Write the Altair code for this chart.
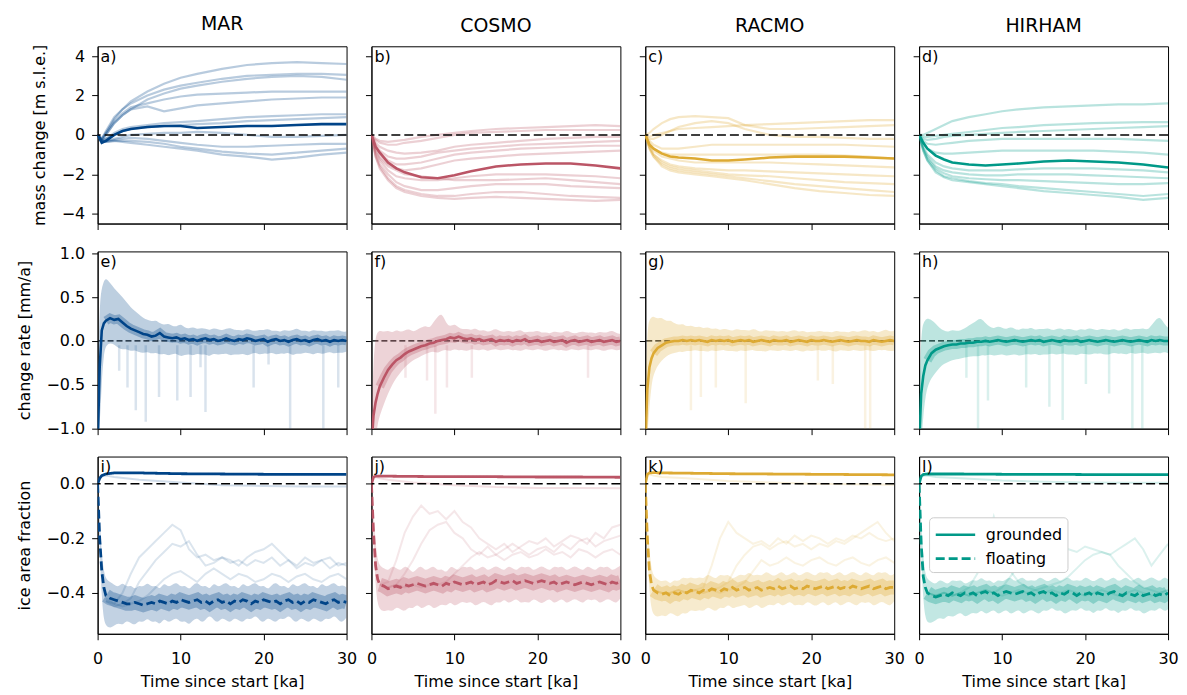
import altair as alt
import pandas as pd

MODELS = ["MAR", "COSMO", "RACMO", "HIRHAM"]
COLORS = ["#004488", "#BB5566", "#DDAA33", "#009988"]
LETTERS = [["a)", "b)", "c)", "d)"], ["e)", "f)", "g)", "h)"], ["i)", "j)", "k)", "l)"]]
X_TICKS = [0, 10, 20, 30]
ROW_TITLES = ["mass change [m s.l.e.]", "change rate [mm/a]", "ice area fraction"]
ROW_DOMAINS = [[-4.5, 4.5], [-1.0, 1.02], [-0.55, 0.1]]
ROW_TICKS = [[-4, -2, 0, 2, 4], [-1.0, -0.5, 0.0, 0.5, 1.0], [-0.4, -0.2, 0.0]]
ROW_FORMATS = ["d", ".1f", ".1f"]
LEGEND_LABELS = ["grounded", "floating"]

# ---------------- row 1: mass change (time grid T1) ----------------
T1 = [0, 0.5, 1, 2, 3, 4, 6, 8, 10, 12, 15, 18, 21, 24, 27, 30]

MAR_MASS = [
    [0, -0.2, 0.1, 0.8, 1.3, 1.7, 2.2, 2.6, 2.9, 3.1, 3.35, 3.55, 3.65, 3.7, 3.65, 3.6],
    [0, -0.2, 0.2, 0.9, 1.3, 1.6, 2.0, 2.3, 2.5, 2.65, 2.85, 3.0, 3.05, 3.1, 3.1, 3.05],
    [0, -0.25, 0.0, 0.6, 1.0, 1.3, 1.8, 2.1, 2.35, 2.5, 2.7, 2.85, 2.95, 3.0, 2.95, 2.8],
    [0, -0.2, 0.1, 0.7, 1.1, 1.4, 1.6, 1.8, 1.95, 2.05, 2.1, 2.15, 2.2, 2.2, 2.2, 2.2],
    [0, -0.3, 0.0, 0.6, 1.0, 1.3, 1.45, 1.2, 1.35, 1.5, 1.6, 1.7, 1.8, 1.85, 1.9, 1.9],
    [0, -0.3, -0.2, 0.1, 0.3, 0.4, 0.5, 0.6, 0.65, 0.7, 0.8, 0.9, 0.95, 1.0, 1.05, 1.05],
    [0, -0.3, -0.2, 0.0, 0.2, 0.3, 0.4, 0.45, 0.5, 0.55, 0.6, 0.7, 0.75, 0.8, 0.85, 0.9],
    [0, -0.3, -0.3, -0.2, -0.1, 0.0, 0.05, 0.1, 0.1, 0.15, 0.1, 0.0, -0.1, -0.1, -0.05, 0.0],
    [0, -0.3, -0.3, -0.25, -0.2, -0.15, -0.2, -0.3, -0.4, -0.5, -0.6, -0.6, -0.55, -0.5, -0.45, -0.45],
    [0, -0.3, -0.35, -0.3, -0.3, -0.3, -0.35, -0.45, -0.6, -0.7, -0.85, -0.95, -1.0, -0.9, -0.8, -0.7],
    [0, -0.3, -0.35, -0.3, -0.35, -0.4, -0.5, -0.6, -0.7, -0.8, -1.0, -1.1, -1.25, -1.15, -1.0, -0.9],
]
MAR_MASS_MEAN = [0, -0.4, -0.3, 0.0, 0.2, 0.3, 0.4, 0.45, 0.45, 0.35, 0.4, 0.45, 0.45, 0.5, 0.55, 0.55]

COSMO_MASS = [
    [0, -0.2, -0.3, -0.35, -0.3, -0.25, -0.1, 0.0, 0.1, 0.2, 0.3, 0.35, 0.4, 0.45, 0.5, 0.45],
    [0, -0.25, -0.4, -0.5, -0.5, -0.4, -0.3, -0.15, 0.0, 0.1, 0.15, 0.2, 0.25, 0.25, 0.25, 0.25],
    [0, -0.4, -0.6, -0.8, -0.9, -0.95, -0.9, -0.8, -0.6, -0.5, -0.4, -0.3, -0.2, -0.15, -0.1, -0.1],
    [0, -0.5, -0.8, -1.1, -1.2, -1.2, -1.1, -0.9, -0.8, -0.7, -0.6, -0.5, -0.45, -0.4, -0.35, -0.3],
    [0, -0.6, -0.9, -1.3, -1.5, -1.5, -1.4, -1.2, -1.0, -0.9, -0.8, -0.7, -0.65, -0.6, -0.55, -0.55],
    [0, -0.7, -1.1, -1.5, -1.7, -1.8, -1.7, -1.5, -1.3, -1.2, -1.1, -1.0, -0.95, -0.9, -0.85, -0.8],
    [0, -0.9, -1.3, -1.8, -2.1, -2.2, -2.3, -2.3, -2.2, -2.1, -2.0, -2.0, -2.0, -2.05, -2.1, -2.2],
    [0, -1.0, -1.5, -2.0, -2.4, -2.6, -2.8, -2.8, -2.7, -2.6, -2.5, -2.5, -2.5, -2.6, -2.65, -2.7],
    [0, -1.1, -1.6, -2.2, -2.6, -2.8, -3.0, -3.1, -3.1, -3.0, -2.9, -2.9, -3.0, -3.1, -3.15, -3.2],
    [0, -1.1, -1.7, -2.3, -2.7, -2.9, -3.1, -3.2, -3.25, -3.2, -3.15, -3.2, -3.25, -3.3, -3.35, -3.3],
    [0, -0.8, -1.2, -1.6, -1.8, -2.0, -2.1, -2.2, -2.3, -2.3, -2.3, -2.25, -2.2, -2.3, -2.4, -2.5],
]
COSMO_MASS_MEAN = [0, -0.6, -0.9, -1.4, -1.7, -1.9, -2.15, -2.2, -2.05, -1.85, -1.6, -1.5, -1.45, -1.45, -1.55, -1.7]

RACMO_MASS = [
    [0, -0.1, 0.0, 0.1, 0.2, 0.3, 0.35, 0.4, 0.45, 0.5, 0.55, 0.6, 0.65, 0.7, 0.75, 0.75],
    [0, 0.1, 0.3, 0.6, 0.8, 0.9, 0.95, 0.9, 0.85, 0.5, 0.3, 0.3, 0.35, 0.4, 0.45, 0.5],
    [0, -0.2, -0.2, 0.0, 0.2, 0.4, 0.6, 0.7, 0.6, 0.3, 0.0, -0.1, -0.1, -0.15, -0.2, -0.2],
    [0, -0.3, -0.5, -0.7, -0.7, -0.7, -0.6, -0.5, -0.5, -0.5, -0.5, -0.5, -0.5, -0.5, -0.55, -0.6],
    [0, -0.5, -0.8, -1.1, -1.2, -1.3, -1.4, -1.4, -1.4, -1.4, -1.4, -1.45, -1.5, -1.55, -1.6, -1.65],
    [0, -0.6, -1.0, -1.3, -1.5, -1.6, -1.7, -1.75, -1.8, -1.8, -1.85, -1.9, -1.95, -2.0, -2.05, -2.1],
    [0, -0.6, -1.0, -1.4, -1.6, -1.7, -1.8, -1.9, -2.0, -2.05, -2.1, -2.2, -2.3, -2.4, -2.45, -2.5],
    [0, -0.7, -1.1, -1.5, -1.7, -1.8, -1.9, -2.0, -2.1, -2.2, -2.35, -2.5, -2.6, -2.7, -2.8, -2.9],
    [0, -0.7, -1.1, -1.6, -1.8, -1.9, -2.0, -2.1, -2.2, -2.3, -2.5, -2.7, -2.85, -2.95, -3.05, -3.1],
    [0, -0.4, -0.7, -0.9, -1.0, -1.0, -1.0, -1.0, -1.0, -1.0, -1.0, -1.0, -1.0, -1.05, -1.1, -1.2],
]
RACMO_MASS_MEAN = [0, -0.5, -0.7, -0.95, -1.1, -1.15, -1.2, -1.3, -1.3, -1.25, -1.15, -1.1, -1.1, -1.1, -1.15, -1.2]

HIRHAM_MASS = [
    [0, 0.0, 0.1, 0.3, 0.5, 0.7, 0.9, 1.05, 1.2, 1.3, 1.4, 1.45, 1.5, 1.55, 1.55, 1.6],
    [0, -0.1, -0.1, -0.05, 0.0, 0.05, 0.15, 0.25, 0.35, 0.4, 0.5, 0.55, 0.6, 0.62, 0.65, 0.65],
    [0, -0.2, -0.25, -0.2, -0.1, -0.05, 0.0, 0.05, 0.1, 0.15, 0.2, 0.25, 0.3, 0.35, 0.4, 0.45],
    [0, -0.3, -0.45, -0.5, -0.45, -0.4, -0.3, -0.25, -0.2, -0.2, -0.2, -0.2, -0.2, -0.2, -0.25, -0.3],
    [0, -0.4, -0.7, -0.9, -0.95, -0.95, -0.9, -0.85, -0.8, -0.8, -0.8, -0.8, -0.8, -0.85, -0.9, -1.0],
    [0, -0.6, -1.0, -1.4, -1.6, -1.7, -1.8, -1.8, -1.8, -1.75, -1.7, -1.7, -1.7, -1.75, -1.8, -1.9],
    [0, -0.7, -1.1, -1.6, -1.8, -1.9, -2.0, -2.05, -2.05, -2.0, -2.0, -2.0, -2.05, -2.1, -2.15, -2.2],
    [0, -0.7, -1.2, -1.7, -1.95, -2.1, -2.2, -2.25, -2.3, -2.3, -2.35, -2.4, -2.45, -2.5, -2.5, -2.45],
    [0, -0.8, -1.3, -1.8, -2.1, -2.2, -2.35, -2.45, -2.5, -2.6, -2.7, -2.8, -2.9, -3.0, -3.1, -3.0],
    [0, -0.8, -1.3, -1.9, -2.15, -2.3, -2.4, -2.5, -2.6, -2.7, -2.85, -2.95, -3.05, -3.15, -3.3, -3.2],
]
HIRHAM_MASS_MEAN = [0, -0.4, -0.7, -1.05, -1.25, -1.4, -1.5, -1.55, -1.5, -1.45, -1.35, -1.3, -1.35, -1.4, -1.5, -1.65]

# ---------------- rows 2 and 3: time grid T2 (0..1 by 0.25, then by 0.5) ----------------
T2 = [0, 0.25, 0.5, 0.75] + [1 + 0.5 * i for i in range(59)]

MAR_RATE_MEAN = [
    -1.2, -0.3, 0.12, 0.2, 0.23,
    0.26, 0.24, 0.25, 0.21, 0.17, 0.14, 0.12, 0.10, 0.08, 0.07,
    0.05, 0.06, 0.09, 0.05, 0.04, 0.03, 0.04, 0.02, 0.03, 0.01,
    0.02, 0.0, 0.02, 0.03, 0.01, 0.02, 0.0, 0.01, 0.03, 0.01,
    0.0, 0.02, 0.01, 0.03, 0.02, 0.0, 0.01, 0.02, -0.01, 0.01,
    0.02, 0.0, 0.01, -0.01, 0.01, 0.02, 0.0, 0.01, -0.01, 0.01,
    0.02, 0.0, 0.01, -0.01, 0.01, 0.0, 0.01, 0.0]
MAR_RATE_HI = [
    -0.5, 0.45, 0.6, 0.68, 0.72,
    0.66, 0.6, 0.55, 0.5, 0.44, 0.38, 0.34, 0.3, 0.26, 0.24,
    0.22, 0.24, 0.2, 0.18, 0.2, 0.17, 0.16, 0.2, 0.15, 0.14,
    0.16, 0.13, 0.15, 0.14, 0.12, 0.15, 0.13, 0.12, 0.14, 0.15,
    0.12, 0.13, 0.11, 0.14, 0.12, 0.11, 0.13, 0.12, 0.14, 0.11,
    0.12, 0.1, 0.13, 0.11, 0.12, 0.15, 0.11, 0.12, 0.1, 0.13,
    0.11, 0.12, 0.1, 0.12, 0.11, 0.13, 0.1, 0.11]
MAR_RATE_LO = [
    -1.2, -1.0, -0.45, -0.15, -0.05,
    -0.02, -0.04, -0.08, -0.1, -0.09, -0.12, -0.1, -0.13, -0.14, -0.12,
    -0.15, -0.13, -0.16, -0.14, -0.17, -0.15, -0.14, -0.18, -0.16, -0.15,
    -0.17, -0.14, -0.16, -0.15, -0.18, -0.14, -0.16, -0.15, -0.14, -0.17,
    -0.15, -0.16, -0.14, -0.17, -0.15, -0.13, -0.16, -0.14, -0.15, -0.13,
    -0.16, -0.14, -0.15, -0.13, -0.17, -0.14, -0.15, -0.13, -0.14, -0.16,
    -0.13, -0.15, -0.14, -0.12, -0.15, -0.13, -0.14, -0.12]

COSMO_RATE_MEAN = [
    -1.2, -0.85, -0.7, -0.6, -0.52,
    -0.42, -0.33, -0.27, -0.22, -0.19, -0.15, -0.12, -0.1, -0.08, -0.06,
    -0.05, -0.03, -0.02, 0.0, 0.01, 0.02, 0.04, 0.03, 0.05, 0.03,
    0.02, 0.03, 0.01, 0.02, 0.0, 0.01, 0.02, -0.01, 0.01, 0.0,
    0.01, -0.01, 0.01, 0.0, 0.02, -0.01, 0.0, 0.01, -0.01, 0.0,
    0.01, -0.01, 0.0, 0.01, -0.02, 0.0, 0.01, -0.01, 0.0, 0.01,
    -0.01, 0.0, 0.01, -0.01, 0.0, 0.01, -0.01, 0.0]
COSMO_RATE_HI = [
    -0.9, -0.2, 0.05, 0.1, 0.12,
    0.1, 0.12, 0.09, 0.13, 0.1, 0.12, 0.14, 0.1, 0.13, 0.15,
    0.18, 0.14, 0.22, 0.28, 0.32, 0.2, 0.16, 0.2, 0.15, 0.13,
    0.14, 0.12, 0.15, 0.11, 0.13, 0.1, 0.12, 0.14, 0.11, 0.1,
    0.12, 0.1, 0.11, 0.13, 0.09, 0.11, 0.1, 0.12, 0.09, 0.1,
    0.08, 0.11, 0.1, 0.09, 0.12, 0.1, 0.08, 0.1, 0.11, 0.09,
    0.1, 0.08, 0.11, 0.09, 0.1, 0.12, 0.09, 0.08]
COSMO_RATE_LO = [
    -1.3, -1.2, -1.1, -0.95, -0.85,
    -0.72, -0.6, -0.5, -0.42, -0.36, -0.3, -0.26, -0.22, -0.2, -0.17,
    -0.15, -0.13, -0.12, -0.14, -0.11, -0.1, -0.12, -0.09, -0.11, -0.1,
    -0.12, -0.09, -0.1, -0.11, -0.09, -0.12, -0.1, -0.09, -0.11, -0.1,
    -0.09, -0.11, -0.1, -0.12, -0.09, -0.1, -0.11, -0.09, -0.1, -0.12,
    -0.1, -0.09, -0.11, -0.1, -0.12, -0.09, -0.1, -0.11, -0.09, -0.1,
    -0.11, -0.09, -0.1, -0.12, -0.1, -0.09, -0.11, -0.1]

RACMO_RATE_MEAN = [
    -1.2, -0.55, -0.3, -0.2, -0.14,
    -0.08, -0.05, -0.02, -0.01, 0.0, 0.0, 0.01, 0.0, 0.01, 0.0,
    0.01, 0.0, -0.01, 0.01, 0.0, 0.01, 0.0, 0.01, -0.01, 0.0,
    0.01, 0.0, 0.01, -0.01, 0.0, 0.01, 0.0, -0.01, 0.01, 0.0,
    0.0, 0.01, -0.01, 0.0, 0.01, 0.0, -0.01, 0.01, 0.0, 0.0,
    0.01, 0.0, -0.01, 0.0, 0.01, 0.0, -0.01, 0.0, 0.01, 0.0,
    0.0, -0.01, 0.01, 0.0, -0.01, 0.0, 0.01, 0.0]
RACMO_RATE_HI = [
    -0.6, 0.15, 0.24, 0.27, 0.28,
    0.25, 0.27, 0.22, 0.24, 0.2, 0.18, 0.2, 0.16, 0.18, 0.15,
    0.17, 0.14, 0.16, 0.13, 0.15, 0.12, 0.14, 0.13, 0.11, 0.14,
    0.12, 0.13, 0.11, 0.14, 0.12, 0.1, 0.13, 0.11, 0.12, 0.1,
    0.12, 0.1, 0.11, 0.13, 0.1, 0.12, 0.09, 0.11, 0.1, 0.12,
    0.1, 0.11, 0.09, 0.12, 0.1, 0.11, 0.09, 0.12, 0.1, 0.11,
    0.13, 0.1, 0.12, 0.09, 0.11, 0.14, 0.1, 0.12]
RACMO_RATE_LO = [
    -1.3, -1.1, -0.75, -0.5, -0.38,
    -0.28, -0.22, -0.18, -0.15, -0.14, -0.12, -0.13, -0.11, -0.12, -0.1,
    -0.12, -0.11, -0.13, -0.1, -0.12, -0.11, -0.1, -0.12, -0.11, -0.13,
    -0.1, -0.12, -0.11, -0.1, -0.12, -0.11, -0.13, -0.1, -0.11, -0.12,
    -0.1, -0.11, -0.12, -0.1, -0.11, -0.13, -0.1, -0.12, -0.11, -0.1,
    -0.12, -0.1, -0.11, -0.13, -0.1, -0.11, -0.12, -0.1, -0.11, -0.12,
    -0.1, -0.11, -0.12, -0.1, -0.11, -0.1, -0.12, -0.11]

HIRHAM_RATE_MEAN = [
    -1.2, -0.6, -0.4, -0.28, -0.22,
    -0.14, -0.1, -0.08, -0.06, -0.05, -0.04, -0.04, -0.03, -0.03, -0.02,
    -0.02, -0.01, -0.01, 0.0, -0.01, 0.0, 0.01, 0.0, -0.01, 0.0,
    0.01, 0.0, -0.01, 0.0, 0.01, 0.0, 0.01, -0.01, 0.0, 0.01,
    0.0, -0.01, 0.01, 0.0, 0.0, 0.01, -0.01, 0.0, 0.01, 0.0,
    -0.01, 0.0, 0.01, 0.0, -0.01, 0.0, 0.01, 0.0, -0.01, 0.0,
    0.01, 0.0, -0.01, 0.01, 0.0, 0.01, 0.0, 0.0]
HIRHAM_RATE_HI = [
    -0.7, 0.1, 0.2, 0.24, 0.26,
    0.24, 0.2, 0.14, 0.12, 0.1, 0.13, 0.11, 0.12, 0.14, 0.18,
    0.2, 0.24, 0.26, 0.2, 0.16, 0.14, 0.17, 0.15, 0.13, 0.16,
    0.14, 0.12, 0.15, 0.13, 0.16, 0.12, 0.14, 0.13, 0.15, 0.12,
    0.13, 0.15, 0.12, 0.14, 0.13, 0.11, 0.14, 0.12, 0.15, 0.13,
    0.12, 0.14, 0.13, 0.12, 0.14, 0.11, 0.13, 0.15, 0.12, 0.14,
    0.13, 0.15, 0.12, 0.18, 0.24, 0.28, 0.2, 0.15]
HIRHAM_RATE_LO = [
    -1.3, -1.2, -0.85, -0.65, -0.52,
    -0.42, -0.36, -0.3, -0.26, -0.24, -0.22, -0.21, -0.2, -0.19, -0.18,
    -0.17, -0.18, -0.16, -0.17, -0.15, -0.17, -0.16, -0.15, -0.17, -0.16,
    -0.15, -0.17, -0.16, -0.15, -0.16, -0.14, -0.17, -0.15, -0.16, -0.14,
    -0.16, -0.15, -0.14, -0.16, -0.15, -0.17, -0.14, -0.15, -0.16, -0.14,
    -0.15, -0.14, -0.16, -0.15, -0.13, -0.15, -0.14, -0.16, -0.13, -0.15,
    -0.14, -0.13, -0.15, -0.14, -0.13, -0.15, -0.12, -0.14]

# occasional downward spikes of single members (time, value)
MAR_SPIKE_T = [2.6, 3.6, 4.6, 5.8, 7.4, 9.6, 11.2, 12.4, 13.0, 18.8, 20.6, 23.2, 27.2, 29.0]
MAR_SPIKE_V = [-0.34, -0.53, -0.79, -0.92, -0.64, -0.68, -0.64, -0.3, -0.81, -0.53, -0.27, -1.0, -1.0, -0.53]
COSMO_SPIKE_T = [4.1, 6.7, 7.7, 9.1, 12.1, 26.1]
COSMO_SPIKE_V = [-0.42, -0.45, -0.83, -0.53, -0.42, -0.42]
RACMO_SPIKE_T = [5.5, 6.7, 8.5, 12.1, 20.8, 22.6, 26.5, 27.1]
RACMO_SPIKE_V = [-0.79, -0.64, -0.53, -0.71, -0.45, -0.49, -1.0, -1.0]
HIRHAM_SPIKE_T = [5.7, 7.1, 8.3, 12.9, 15.7, 17.3, 20.1, 22.9, 25.7, 26.9]
HIRHAM_SPIKE_V = [-0.42, -1.0, -0.68, -0.53, -0.75, -0.9, -0.49, -0.6, -1.0, -1.0]
SPIKE_TOP = -0.05

# ---------------- row 3: ice area fraction ----------------
MAR_FLOAT_MEAN = [
    0.0, -0.2, -0.32, -0.38, -0.41,
    -0.42, -0.425, -0.43, -0.435, -0.44, -0.44, -0.435, -0.44, -0.445, -0.44,
    -0.435, -0.44, -0.43, -0.435, -0.44, -0.43, -0.435, -0.425, -0.43, -0.435,
    -0.43, -0.425, -0.435, -0.43, -0.44, -0.43, -0.425, -0.435, -0.43, -0.44,
    -0.43, -0.435, -0.425, -0.43, -0.44, -0.43, -0.435, -0.425, -0.43, -0.435,
    -0.43, -0.44, -0.43, -0.425, -0.435, -0.43, -0.44, -0.43, -0.435, -0.425,
    -0.43, -0.435, -0.44, -0.43, -0.425, -0.435, -0.43, -0.435]
MAR_FLOAT_HI = [
    0.0, -0.12, -0.26, -0.32, -0.35,
    -0.36, -0.37, -0.38, -0.36, -0.38, -0.37, -0.39, -0.37, -0.38, -0.36,
    -0.38, -0.37, -0.39, -0.36, -0.38, -0.37, -0.36, -0.38, -0.37, -0.39,
    -0.37, -0.36, -0.38, -0.37, -0.39, -0.36, -0.38, -0.37, -0.36, -0.38,
    -0.37, -0.39, -0.36, -0.38, -0.37, -0.36, -0.38, -0.37, -0.39, -0.37,
    -0.36, -0.38, -0.37, -0.39, -0.36, -0.38, -0.37, -0.36, -0.38, -0.37,
    -0.39, -0.36, -0.38, -0.37, -0.36, -0.38, -0.37, -0.38]
MAR_FLOAT_LO = [
    0.0, -0.25, -0.42, -0.5, -0.52,
    -0.53, -0.52, -0.51, -0.52, -0.5, -0.51, -0.52, -0.5, -0.51, -0.49,
    -0.51, -0.5, -0.52, -0.49, -0.51, -0.5, -0.49, -0.51, -0.5, -0.52,
    -0.5, -0.49, -0.51, -0.5, -0.48, -0.5, -0.51, -0.49, -0.5, -0.51,
    -0.49, -0.5, -0.51, -0.49, -0.5, -0.48, -0.5, -0.51, -0.49, -0.5,
    -0.51, -0.49, -0.5, -0.48, -0.5, -0.51, -0.49, -0.5, -0.51, -0.49,
    -0.5, -0.51, -0.49, -0.5, -0.48, -0.5, -0.51, -0.49]

COSMO_FLOAT_MEAN = [
    0.0, -0.18, -0.3, -0.35, -0.37,
    -0.375, -0.385, -0.38, -0.375, -0.38, -0.37, -0.375, -0.37, -0.365, -0.37,
    -0.375, -0.37, -0.365, -0.37, -0.375, -0.365, -0.37, -0.36, -0.365, -0.37,
    -0.365, -0.36, -0.37, -0.365, -0.36, -0.37, -0.365, -0.355, -0.36, -0.365,
    -0.36, -0.355, -0.365, -0.36, -0.355, -0.36, -0.365, -0.36, -0.355, -0.36,
    -0.365, -0.36, -0.37, -0.365, -0.36, -0.365, -0.37, -0.365, -0.36, -0.365,
    -0.37, -0.365, -0.36, -0.365, -0.37, -0.36, -0.365, -0.36]
COSMO_FLOAT_HI = [
    0.0, -0.1, -0.22, -0.28, -0.3,
    -0.31, -0.32, -0.3, -0.31, -0.32, -0.3, -0.31, -0.33, -0.31, -0.3,
    -0.32, -0.31, -0.3, -0.32, -0.31, -0.33, -0.3, -0.31, -0.32, -0.3,
    -0.31, -0.3, -0.32, -0.31, -0.3, -0.32, -0.31, -0.3, -0.31, -0.32,
    -0.3, -0.31, -0.32, -0.3, -0.31, -0.3, -0.32, -0.31, -0.3, -0.31,
    -0.32, -0.3, -0.31, -0.3, -0.32, -0.31, -0.3, -0.31, -0.32, -0.3,
    -0.31, -0.32, -0.3, -0.31, -0.3, -0.32, -0.31, -0.3]
COSMO_FLOAT_LO = [
    0.0, -0.22, -0.38, -0.44, -0.46,
    -0.47, -0.46, -0.47, -0.45, -0.46, -0.47, -0.45, -0.46, -0.44, -0.46,
    -0.45, -0.44, -0.46, -0.45, -0.44, -0.45, -0.43, -0.45, -0.44, -0.43,
    -0.44, -0.43, -0.45, -0.44, -0.43, -0.44, -0.45, -0.43, -0.44, -0.42,
    -0.44, -0.43, -0.42, -0.44, -0.43, -0.44, -0.42, -0.43, -0.44, -0.43,
    -0.42, -0.44, -0.43, -0.42, -0.44, -0.43, -0.42, -0.43, -0.44, -0.42,
    -0.43, -0.42, -0.44, -0.43, -0.42, -0.43, -0.44, -0.42]

RACMO_FLOAT_MEAN = [
    0.0, -0.2, -0.32, -0.37, -0.39,
    -0.4, -0.405, -0.4, -0.41, -0.4, -0.405, -0.395, -0.4, -0.39, -0.395,
    -0.4, -0.39, -0.395, -0.385, -0.39, -0.395, -0.385, -0.39, -0.38, -0.39,
    -0.385, -0.38, -0.39, -0.385, -0.38, -0.39, -0.385, -0.38, -0.385, -0.375,
    -0.385, -0.38, -0.375, -0.385, -0.38, -0.385, -0.375, -0.38, -0.385, -0.38,
    -0.375, -0.385, -0.38, -0.375, -0.385, -0.38, -0.385, -0.375, -0.38, -0.385,
    -0.38, -0.375, -0.385, -0.38, -0.375, -0.385, -0.38, -0.38]
RACMO_FLOAT_HI = [
    0.0, -0.12, -0.25, -0.31, -0.34,
    -0.35, -0.36, -0.35, -0.37, -0.35, -0.36, -0.34, -0.35, -0.34, -0.35,
    -0.34, -0.35, -0.33, -0.34, -0.35, -0.33, -0.34, -0.33, -0.35, -0.34,
    -0.33, -0.34, -0.32, -0.34, -0.33, -0.34, -0.32, -0.33, -0.34, -0.33,
    -0.32, -0.34, -0.33, -0.32, -0.34, -0.33, -0.32, -0.33, -0.34, -0.32,
    -0.33, -0.32, -0.34, -0.33, -0.32, -0.34, -0.33, -0.32, -0.33, -0.34,
    -0.32, -0.33, -0.34, -0.32, -0.33, -0.32, -0.34, -0.33]
RACMO_FLOAT_LO = [
    0.0, -0.25, -0.4, -0.46, -0.48,
    -0.49, -0.48, -0.49, -0.47, -0.48, -0.49, -0.47, -0.48, -0.46, -0.47,
    -0.46, -0.47, -0.45, -0.46, -0.47, -0.45, -0.46, -0.44, -0.46, -0.45,
    -0.45, -0.44, -0.46, -0.45, -0.44, -0.46, -0.45, -0.44, -0.45, -0.43,
    -0.45, -0.44, -0.43, -0.45, -0.44, -0.45, -0.43, -0.44, -0.45, -0.44,
    -0.43, -0.45, -0.44, -0.43, -0.45, -0.44, -0.43, -0.44, -0.45, -0.43,
    -0.44, -0.43, -0.45, -0.44, -0.43, -0.44, -0.45, -0.43]

HIRHAM_FLOAT_MEAN = [
    0.0, -0.22, -0.34, -0.38, -0.4,
    -0.41, -0.415, -0.41, -0.405, -0.41, -0.4, -0.405, -0.41, -0.4, -0.405,
    -0.4, -0.41, -0.4, -0.395, -0.405, -0.4, -0.41, -0.4, -0.395, -0.4,
    -0.405, -0.4, -0.395, -0.405, -0.4, -0.41, -0.4, -0.395, -0.405, -0.4,
    -0.41, -0.4, -0.405, -0.395, -0.4, -0.41, -0.4, -0.405, -0.4, -0.41,
    -0.4, -0.405, -0.41, -0.4, -0.395, -0.405, -0.41, -0.4, -0.405, -0.41,
    -0.4, -0.41, -0.405, -0.4, -0.41, -0.405, -0.41, -0.4]
HIRHAM_FLOAT_HI = [
    0.0, -0.13, -0.27, -0.33, -0.35,
    -0.36, -0.37, -0.35, -0.36, -0.37, -0.35, -0.36, -0.35, -0.37, -0.36,
    -0.35, -0.36, -0.34, -0.36, -0.35, -0.37, -0.35, -0.36, -0.35, -0.34,
    -0.36, -0.35, -0.34, -0.36, -0.35, -0.36, -0.34, -0.35, -0.36, -0.35,
    -0.34, -0.36, -0.35, -0.34, -0.36, -0.35, -0.36, -0.34, -0.35, -0.36,
    -0.35, -0.34, -0.36, -0.35, -0.34, -0.36, -0.35, -0.34, -0.36, -0.35,
    -0.34, -0.36, -0.35, -0.34, -0.35, -0.36, -0.34, -0.35]
HIRHAM_FLOAT_LO = [
    0.0, -0.27, -0.43, -0.49, -0.51,
    -0.51, -0.5, -0.49, -0.5, -0.48, -0.49, -0.48, -0.47, -0.49, -0.48,
    -0.47, -0.48, -0.46, -0.48, -0.47, -0.46, -0.48, -0.47, -0.46, -0.48,
    -0.47, -0.46, -0.48, -0.47, -0.46, -0.47, -0.48, -0.46, -0.47, -0.45,
    -0.47, -0.46, -0.48, -0.47, -0.46, -0.47, -0.45, -0.47, -0.46, -0.48,
    -0.46, -0.47, -0.45, -0.47, -0.46, -0.48, -0.46, -0.47, -0.45, -0.47,
    -0.46, -0.48, -0.47, -0.46, -0.47, -0.45, -0.47, -0.46]

# grounded fraction (smooth), grid TG
TG = [0, 0.25, 0.5, 1, 2, 5, 10, 15, 20, 25, 30]
MAR_GROUND_MEAN = [0.0, 0.02, 0.03, 0.036, 0.04, 0.04, 0.037, 0.036, 0.035, 0.035, 0.035]
COSMO_GROUND_MEAN = [0.0, 0.025, 0.028, 0.028, 0.028, 0.027, 0.026, 0.026, 0.025, 0.025, 0.024]
RACMO_GROUND_MEAN = [0.0, 0.035, 0.04, 0.041, 0.04, 0.039, 0.037, 0.036, 0.035, 0.034, 0.033]
HIRHAM_GROUND_MEAN = [0.0, 0.028, 0.034, 0.036, 0.036, 0.036, 0.035, 0.035, 0.034, 0.034, 0.034]
MAR_GROUND_LOW = [0.0, 0.02, 0.03, 0.03, 0.025, 0.015, 0.005, -0.005, -0.008, -0.01, -0.01]
COSMO_GROUND_LOW = [0.0, 0.02, 0.025, 0.02, 0.015, 0.005, -0.005, -0.012, -0.015, -0.015, -0.016]
RACMO_GROUND_LOW = [0.0, 0.03, 0.035, 0.03, 0.025, 0.02, 0.01, 0.005, 0.0, -0.002, -0.003]
HIRHAM_GROUND_LOW = [0.0, 0.025, 0.03, 0.03, 0.025, 0.02, 0.012, 0.008, 0.005, 0.004, 0.004]

# floating members that leave the main band, grid TE = 1..30 ka
TE = list(range(1, 31))
MAR_EXCURSIONS = [
    [-0.42, -0.44, -0.4, -0.33, -0.27, -0.24, -0.21, -0.18, -0.15, -0.17, -0.24, -0.27, -0.26, -0.28, -0.27,
     -0.29, -0.28, -0.3, -0.28, -0.29, -0.27, -0.3, -0.28, -0.31, -0.29, -0.3, -0.28, -0.31, -0.29, -0.3],
    [-0.43, -0.45, -0.44, -0.42, -0.36, -0.32, -0.28, -0.25, -0.22, -0.23, -0.21, -0.26, -0.3, -0.29, -0.27,
     -0.28, -0.3, -0.27, -0.25, -0.24, -0.22, -0.25, -0.28, -0.3, -0.27, -0.29, -0.28, -0.27, -0.3, -0.29],
    [-0.43, -0.44, -0.45, -0.44, -0.43, -0.41, -0.38, -0.35, -0.33, -0.32, -0.34, -0.36, -0.33, -0.31, -0.33,
     -0.35, -0.33, -0.34, -0.36, -0.35, -0.33, -0.34, -0.36, -0.34, -0.33, -0.35, -0.36, -0.34, -0.33, -0.35],
]
COSMO_EXCURSIONS = [
    [-0.37, -0.36, -0.28, -0.18, -0.12, -0.08, -0.11, -0.1, -0.13, -0.1, -0.14, -0.16, -0.2, -0.22, -0.24,
     -0.22, -0.25, -0.23, -0.21, -0.22, -0.2, -0.23, -0.21, -0.19, -0.2, -0.22, -0.18, -0.2, -0.16, -0.15],
    [-0.37, -0.38, -0.37, -0.33, -0.28, -0.22, -0.17, -0.15, -0.14, -0.18, -0.2, -0.24, -0.26, -0.23, -0.26,
     -0.24, -0.22, -0.24, -0.26, -0.24, -0.23, -0.25, -0.22, -0.24, -0.21, -0.2, -0.23, -0.21, -0.2, -0.19],
    [-0.37, -0.38, -0.37, -0.38, -0.37, -0.38, -0.37, -0.37, -0.36, -0.33, -0.3, -0.27, -0.25, -0.27, -0.26,
     -0.28, -0.26, -0.25, -0.27, -0.26, -0.24, -0.26, -0.25, -0.27, -0.24, -0.25, -0.27, -0.25, -0.24, -0.26],
]
RACMO_EXCURSIONS = [
    [-0.39, -0.4, -0.4, -0.39, -0.4, -0.39, -0.38, -0.3, -0.2, -0.14, -0.18, -0.2, -0.22, -0.21, -0.23,
     -0.2, -0.22, -0.19, -0.21, -0.19, -0.2, -0.22, -0.2, -0.21, -0.19, -0.2, -0.18, -0.2, -0.21, -0.2],
    [-0.39, -0.4, -0.4, -0.39, -0.4, -0.39, -0.4, -0.39, -0.38, -0.36, -0.3, -0.26, -0.23, -0.22, -0.24,
     -0.22, -0.21, -0.23, -0.22, -0.24, -0.22, -0.23, -0.21, -0.22, -0.2, -0.18, -0.16, -0.14, -0.18, -0.21],
    [-0.39, -0.4, -0.4, -0.39, -0.4, -0.39, -0.4, -0.39, -0.4, -0.39, -0.38, -0.36, -0.32, -0.28, -0.3,
     -0.29, -0.27, -0.29, -0.3, -0.28, -0.27, -0.29, -0.3, -0.28, -0.27, -0.29, -0.3, -0.28, -0.27, -0.29],
]
HIRHAM_EXCURSIONS = [
    [-0.4, -0.41, -0.4, -0.41, -0.4, -0.38, -0.33, -0.25, -0.12, -0.22, -0.32, -0.36, -0.38, -0.39, -0.4,
     -0.39, -0.4, -0.39, -0.4, -0.41, -0.4, -0.39, -0.4, -0.41, -0.4, -0.39, -0.4, -0.41, -0.4, -0.39],
    [-0.4, -0.41, -0.4, -0.41, -0.4, -0.41, -0.4, -0.39, -0.4, -0.41, -0.4, -0.39, -0.4, -0.39, -0.38,
     -0.37, -0.36, -0.34, -0.31, -0.28, -0.26, -0.25, -0.26, -0.24, -0.22, -0.2, -0.24, -0.3, -0.26, -0.22],
    [-0.4, -0.41, -0.4, -0.41, -0.4, -0.41, -0.4, -0.39, -0.4, -0.38, -0.34, -0.3, -0.27, -0.25, -0.24,
     -0.25, -0.23, -0.24, -0.25, -0.23, -0.24, -0.25, -0.26, -0.3, -0.33, -0.36, -0.38, -0.39, -0.4, -0.39],
]

MASS = [MAR_MASS, COSMO_MASS, RACMO_MASS, HIRHAM_MASS]
MASS_MEAN = [MAR_MASS_MEAN, COSMO_MASS_MEAN, RACMO_MASS_MEAN, HIRHAM_MASS_MEAN]
RATE_MEAN = [MAR_RATE_MEAN, COSMO_RATE_MEAN, RACMO_RATE_MEAN, HIRHAM_RATE_MEAN]
RATE_HI = [MAR_RATE_HI, COSMO_RATE_HI, RACMO_RATE_HI, HIRHAM_RATE_HI]
RATE_LO = [MAR_RATE_LO, COSMO_RATE_LO, RACMO_RATE_LO, HIRHAM_RATE_LO]
SPIKE_T = [MAR_SPIKE_T, COSMO_SPIKE_T, RACMO_SPIKE_T, HIRHAM_SPIKE_T]
SPIKE_V = [MAR_SPIKE_V, COSMO_SPIKE_V, RACMO_SPIKE_V, HIRHAM_SPIKE_V]
FLOAT_MEAN = [MAR_FLOAT_MEAN, COSMO_FLOAT_MEAN, RACMO_FLOAT_MEAN, HIRHAM_FLOAT_MEAN]
FLOAT_HI = [MAR_FLOAT_HI, COSMO_FLOAT_HI, RACMO_FLOAT_HI, HIRHAM_FLOAT_HI]
FLOAT_LO = [MAR_FLOAT_LO, COSMO_FLOAT_LO, RACMO_FLOAT_LO, HIRHAM_FLOAT_LO]
GROUND_MEAN = [MAR_GROUND_MEAN, COSMO_GROUND_MEAN, RACMO_GROUND_MEAN, HIRHAM_GROUND_MEAN]
GROUND_LOW = [MAR_GROUND_LOW, COSMO_GROUND_LOW, RACMO_GROUND_LOW, HIRHAM_GROUND_LOW]
EXCURSIONS = [MAR_EXCURSIONS, COSMO_EXCURSIONS, RACMO_EXCURSIONS, HIRHAM_EXCURSIONS]

FONT = "DejaVu Sans"
W, H = 250, 178
CORE_START = 4  # dense core of the ensemble drawn from t = 1 ka on


def x_enc(show):
    if show:
        ax = alt.Axis(values=X_TICKS, format="d", title="Time since start [ka]", labelFlush=False,
                      titlePadding=7, labelPadding=11)
    else:
        ax = alt.Axis(values=X_TICKS, labels=False, title=None)
    return alt.X("t:Q", scale=alt.Scale(domain=[0, 30], nice=False, zero=False), axis=ax)


def y_enc(field, row, show):
    if show:
        ax = alt.Axis(values=ROW_TICKS[row], format=ROW_FORMATS[row], title=ROW_TITLES[row],
                      labelFlush=False, titlePadding=14, labelPadding=7)
    else:
        ax = alt.Axis(values=ROW_TICKS[row], labels=False, title=None)
    return alt.Y(f"{field}:Q", scale=alt.Scale(domain=ROW_DOMAINS[row], nice=False, zero=False), axis=ax)


def lines_df(t, series):
    rows = []
    for i, s in enumerate(series):
        for tt, vv in zip(t, s):
            rows.append({"t": tt, "v": vv, "m": i})
    return pd.DataFrame(rows)


def band_df(t, lo, hi):
    rows = [{"t": tt, "lo": a, "hi": b} for tt, a, b in zip(t, lo, hi)]
    return pd.DataFrame(rows)


def zero_rule(Y, dash, width):
    return alt.Chart(pd.DataFrame({"v": [0.0]})).mark_rule(
        color="black", strokeDash=dash, strokeWidth=width).encode(y=Y)


def letter(text):
    return alt.Chart(pd.DataFrame({"lab": [text]})).mark_text(
        align="left", baseline="top", fontSize=16, font=FONT, color="black"
    ).encode(x=alt.value(3), y=alt.value(3), text="lab:N")


def panel(row, col):
    color = COLORS[col]
    X = x_enc(row == 2)
    Yv = y_enc("v", row, col == 0)
    Ylo = y_enc("lo", row, col == 0)
    layers = []
    if row == 0:
        layers.append(alt.Chart(lines_df(T1, MASS[col])).mark_line(
            color=color, opacity=0.28, strokeWidth=2.2, clip=True).encode(x=X, y=Yv, detail="m:N"))
        layers.append(alt.Chart(lines_df(T1, [MASS_MEAN[col]])).mark_line(
            color=color, strokeWidth=2.6, clip=True).encode(x=X, y=Yv))
        layers.append(zero_rule(Yv, [9, 4], 1.5))
    elif row == 1:
        layers.append(zero_rule(Yv, [6, 3], 1.1))
        layers.append(alt.Chart(band_df(T2, RATE_LO[col], RATE_HI[col])).mark_area(
            color=color, opacity=0.26, clip=True, interpolate="basis").encode(x=X, y=Ylo, y2="hi:Q"))
        sp = pd.DataFrame({"t": SPIKE_T[col], "v": SPIKE_V[col],
                           "top": [SPIKE_TOP] * len(SPIKE_T[col])})
        layers.append(alt.Chart(sp).mark_rule(
            color=color, opacity=0.15, strokeWidth=2.5, clip=True).encode(x=X, y=Yv, y2="top:Q"))
        layers.append(alt.Chart(lines_df(T2[CORE_START:], [RATE_MEAN[col][CORE_START:]])).mark_line(
            color=color, opacity=0.3, strokeWidth=9, clip=True).encode(x=X, y=Yv))
        layers.append(alt.Chart(lines_df(T2, [RATE_MEAN[col]])).mark_line(
            color=color, strokeWidth=2.6, clip=True).encode(x=X, y=Yv))
    else:
        layers.append(alt.Chart(band_df(T2, FLOAT_LO[col], FLOAT_HI[col])).mark_area(
            color=color, opacity=0.24, clip=True, interpolate="basis").encode(x=X, y=Ylo, y2="hi:Q"))
        layers.append(alt.Chart(lines_df(TE, EXCURSIONS[col])).mark_line(
            color=color, opacity=0.14, strokeWidth=2, clip=True).encode(x=X, y=Yv, detail="m:N"))
        layers.append(alt.Chart(lines_df(TG, [GROUND_LOW[col]])).mark_line(
            color=color, opacity=0.18, strokeWidth=2, clip=True).encode(x=X, y=Yv))
        layers.append(alt.Chart(lines_df(T2[CORE_START:], [FLOAT_MEAN[col][CORE_START:]])).mark_line(
            color=color, opacity=0.3, strokeWidth=14, clip=True).encode(x=X, y=Yv))
        rows = [{"t": t, "v": v, "kind": LEGEND_LABELS[0]} for t, v in zip(TG, GROUND_MEAN[col])]
        rows += [{"t": t, "v": v, "kind": LEGEND_LABELS[1]} for t, v in zip(T2, FLOAT_MEAN[col])]
        if col == 3:
            leg = alt.Legend(orient="none", legendX=10, legendY=61, title=None,
                             symbolType="M-1.8,0L1.8,0", symbolStrokeColor=color, symbolStrokeWidth=2.6,
                             symbolSize=484, symbolOffset=9, labelFontSize=16, labelFont=FONT,
                             labelColor="black", labelOffset=18, rowPadding=3, padding=5,
                             strokeColor="#cccccc", fillColor="white", cornerRadius=4)
        else:
            leg = None
        layers.append(alt.Chart(pd.DataFrame(rows)).mark_line(
            color=color, strokeWidth=2.8, clip=True).encode(
            x=X, y=Yv,
            strokeDash=alt.StrokeDash("kind:N", scale=alt.Scale(domain=LEGEND_LABELS, range=[[1, 0], [9, 4]]),
                                      legend=leg)))
        layers.append(zero_rule(Yv, [9, 4], 1.5))
    layers.append(letter(LETTERS[row][col]))
    ch = alt.layer(*layers).properties(width=W, height=H)
    if row == 0:
        ch = ch.properties(title=alt.TitleParams(MODELS[col], fontSize=19, font=FONT,
                                                 fontWeight="normal", offset=10, color="black"))
    return ch


panels = [panel(r, c) for r in range(3) for c in range(4)]

chart = alt.concat(*panels, columns=4, spacing={"row": 28, "column": 25}, bounds="flush").resolve_scale(
    strokeDash="independent"
).properties(
    padding={"left": 7, "right": 0, "top": 5, "bottom": 0}
).configure_view(
    stroke="black", strokeWidth=1
).configure_axis(
    grid=False, domainColor="black", tickColor="black", labelColor="black", titleColor="black",
    tickSize=6, labelFontSize=16, titleFontSize=16, labelFont=FONT, titleFont=FONT,
    titleFontWeight="normal", domainWidth=1, tickWidth=1
).configure_title(
    font=FONT, fontWeight="normal", color="black"
)

chart.save("out.html", embed_options={"renderer": "svg", "actions": False})
